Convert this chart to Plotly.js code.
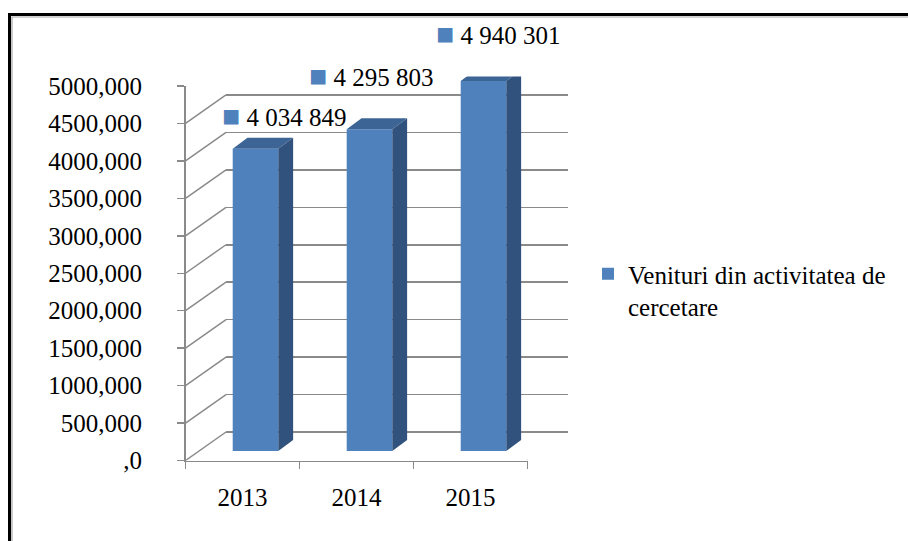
<!DOCTYPE html>
<html><head><meta charset="utf-8">
<script src="https://cdn.plot.ly/plotly-3.0.1.min.js"></script>
<style>html,body{margin:0;padding:0;background:#fff}</style>
</head><body><div id="chart" style="width:908px;height:541px"></div>
<script>
// ---- data ----
const categories = ['2013', '2014', '2015'];
const values = [4034849, 4295803, 4940301];
const valueLabels = ['4 034 849', '4 295 803', '4 940 301'];
const seriesName = 'Venituri din activitatea de<br>cercetare';
const yTickVals = [0, 500000, 1000000, 1500000, 2000000, 2500000, 3000000, 3500000, 4000000, 4500000, 5000000];
const yTickText = [',0', '500,000', '1000,000', '1500,000', '2000,000', '2500,000', '3000,000', '3500,000', '4000,000', '4500,000', '5000,000'];

// ---- style / geometry ----
const W = 908, H = 541;
const FRONT = {x0: 185.5, x1: 527.5, yBottom: 460.5, yTop: 86};
const BAR_SHIFT = {dx: 13, dy: 9.5};
const WALL_SHIFT = {dx: 40.5, dy: 28.5};
const BAR_HALF = 0.2;
const BAR_DEPTH_X = 0.13;     // category units
const BAR_DEPTH_Y = 147000;   // value units
const LABEL_SHIFT = [[28, 33], [1.5, 54], [14.5, 47]];
const GRID = '#8a8a8a';
const FRONT_C = '#4F81BD', TOP_C = '#3C6596', SIDE_C = '#30527C';
const FONT = 'Liberation Serif';
const YMAX = 5000000;

function dom(s) {
  return {
    x: [(FRONT.x0 + s.dx) / W, (FRONT.x1 + s.dx) / W],
    y: [(H - FRONT.yBottom + s.dy) / H, (H - FRONT.yTop + s.dy) / H]
  };
}
const dWall = dom(WALL_SHIFT), dFront = dom({dx: 0, dy: 0}), dBar = dom(BAR_SHIFT);

const traces = [
  {type: 'scatter', x: [0, 2], y: [0, 0], xaxis: 'x', yaxis: 'y', mode: 'markers',
   marker: {opacity: 0}, showlegend: false, hoverinfo: 'skip'},
  {type: 'scatter', x: categories, y: values.map(() => 0), xaxis: 'x2', yaxis: 'y2', mode: 'markers',
   marker: {opacity: 0}, showlegend: false, hoverinfo: 'skip'},
  {type: 'bar', x: categories, y: values, xaxis: 'x3', yaxis: 'y3', width: 2 * BAR_HALF,
   name: seriesName, marker: {color: FRONT_C, line: {width: 0}}, showlegend: true, hoverinfo: 'x+y'}
];

const shapes = [];
// side-wall diagonals for each gridline
yTickVals.forEach(t => {
  shapes.push({type: 'line', xref: 'x2', yref: 'y2', xsizemode: 'pixel', ysizemode: 'pixel',
    xanchor: -0.5, yanchor: t, x0: 0, x1: WALL_SHIFT.dx, y0: 0, y1: WALL_SHIFT.dy,
    line: {color: GRID, width: 1.5}, layer: 'below'});
});
// floor right edge
shapes.push({type: 'line', xref: 'x2', yref: 'y2', xsizemode: 'pixel', ysizemode: 'pixel',
  xanchor: 2.5, yanchor: 0, x0: 0, x1: WALL_SHIFT.dx, y0: 0, y1: WALL_SHIFT.dy,
  line: {color: GRID, width: 1.5}, layer: 'below'});
// bar top and side faces
values.forEach((v, i) => {
  const l = i - BAR_HALF, r = i + BAR_HALF;
  shapes.push({type: 'path', xref: 'x3', yref: 'y3', layer: 'above',
    path: `M ${l},${v} L ${l + BAR_DEPTH_X},${v + BAR_DEPTH_Y} L ${r + BAR_DEPTH_X},${v + BAR_DEPTH_Y} L ${r},${v} Z`,
    fillcolor: TOP_C, line: {width: 0}});
  shapes.push({type: 'path', xref: 'x3', yref: 'y3', layer: 'above',
    path: `M ${r},0 L ${r},${v} L ${r + BAR_DEPTH_X},${v + BAR_DEPTH_Y} L ${r + BAR_DEPTH_X},${BAR_DEPTH_Y} Z`,
    fillcolor: SIDE_C, line: {width: 0}});
});
// outer frame
shapes.push({type: 'rect', xref: 'paper', yref: 'paper', x0: 9.5 / W, x1: 1.05, y0: -0.05, y1: (H - 14.5) / H,
  line: {color: '#000', width: 3}, layer: 'above'});
shapes.push({type: 'rect', xref: 'paper', yref: 'paper', x0: 12 / W, x1: 1.05, y0: -0.05, y1: (H - 17) / H,
  line: {color: '#a6a6a6', width: 1.2}, layer: 'above'});

const annotations = values.map((v, i) => ({
  xref: 'x2', yref: 'y2', x: i, y: v, showarrow: false,
  xshift: LABEL_SHIFT[i][0] + BAR_SHIFT.dx, yshift: LABEL_SHIFT[i][1] + BAR_SHIFT.dy,
  text: '<span style="color:' + FRONT_C + ';font-size:30px">■</span> ' + valueLabels[i],
  font: {family: FONT, size: 25, color: '#000'}
}));

const layout = {
  width: W, height: H, autosize: false,
  margin: {l: 0, r: 0, t: 0, b: 0},
  paper_bgcolor: '#fff', plot_bgcolor: 'rgba(0,0,0,0)',
  font: {family: FONT, color: '#000'},
  showlegend: true,
  legend: {x: 588 / W, y: (H - 251) / H, xanchor: 'left', yanchor: 'top', valign: 'top',
    font: {family: FONT, size: 25, color: '#000'}, bgcolor: 'rgba(0,0,0,0)', borderwidth: 0},
  // back wall
  xaxis: {domain: dWall.x, range: [-0.5, 2.5], anchor: 'y', visible: false, fixedrange: true},
  yaxis: {domain: dWall.y, range: [0, YMAX], anchor: 'x', tickvals: yTickVals, showticklabels: false,
    ticks: '', showgrid: true, gridcolor: GRID, gridwidth: 1.5, zeroline: true, zerolinecolor: GRID,
    zerolinewidth: 1.5, showline: false, fixedrange: true},
  // front axes
  xaxis2: {domain: dFront.x, range: [-0.5, 2.5], anchor: 'y2', type: 'category', tickson: 'boundaries',
    ticks: 'outside', ticklen: 7, tickwidth: 1.5, tickcolor: GRID, showline: true, linecolor: GRID,
    linewidth: 1.5, showgrid: false, zeroline: false, tickfont: {family: FONT, size: 25, color: '#000'},
    ticklabelstandoff: 14, fixedrange: true},
  yaxis2: {domain: dFront.y, range: [0, YMAX], anchor: 'x2', tickvals: yTickVals, ticktext: yTickText,
    ticks: 'outside', ticklen: 7, tickwidth: 1.5, tickcolor: GRID, showline: true, linecolor: GRID,
    linewidth: 1.5, showgrid: false, zeroline: false, tickfont: {family: FONT, size: 25, color: '#000'},
    ticklabelstandoff: 30, fixedrange: true},
  // bar plane
  xaxis3: {domain: dBar.x, range: [-0.5, 2.5], anchor: 'y3', type: 'category', visible: false, fixedrange: true},
  yaxis3: {domain: dBar.y, range: [0, YMAX], anchor: 'x3', visible: false, fixedrange: true},
  shapes: shapes,
  annotations: annotations
};

Plotly.newPlot('chart', traces, layout, {displayModeBar: false, staticPlot: true});
</script></body></html>
